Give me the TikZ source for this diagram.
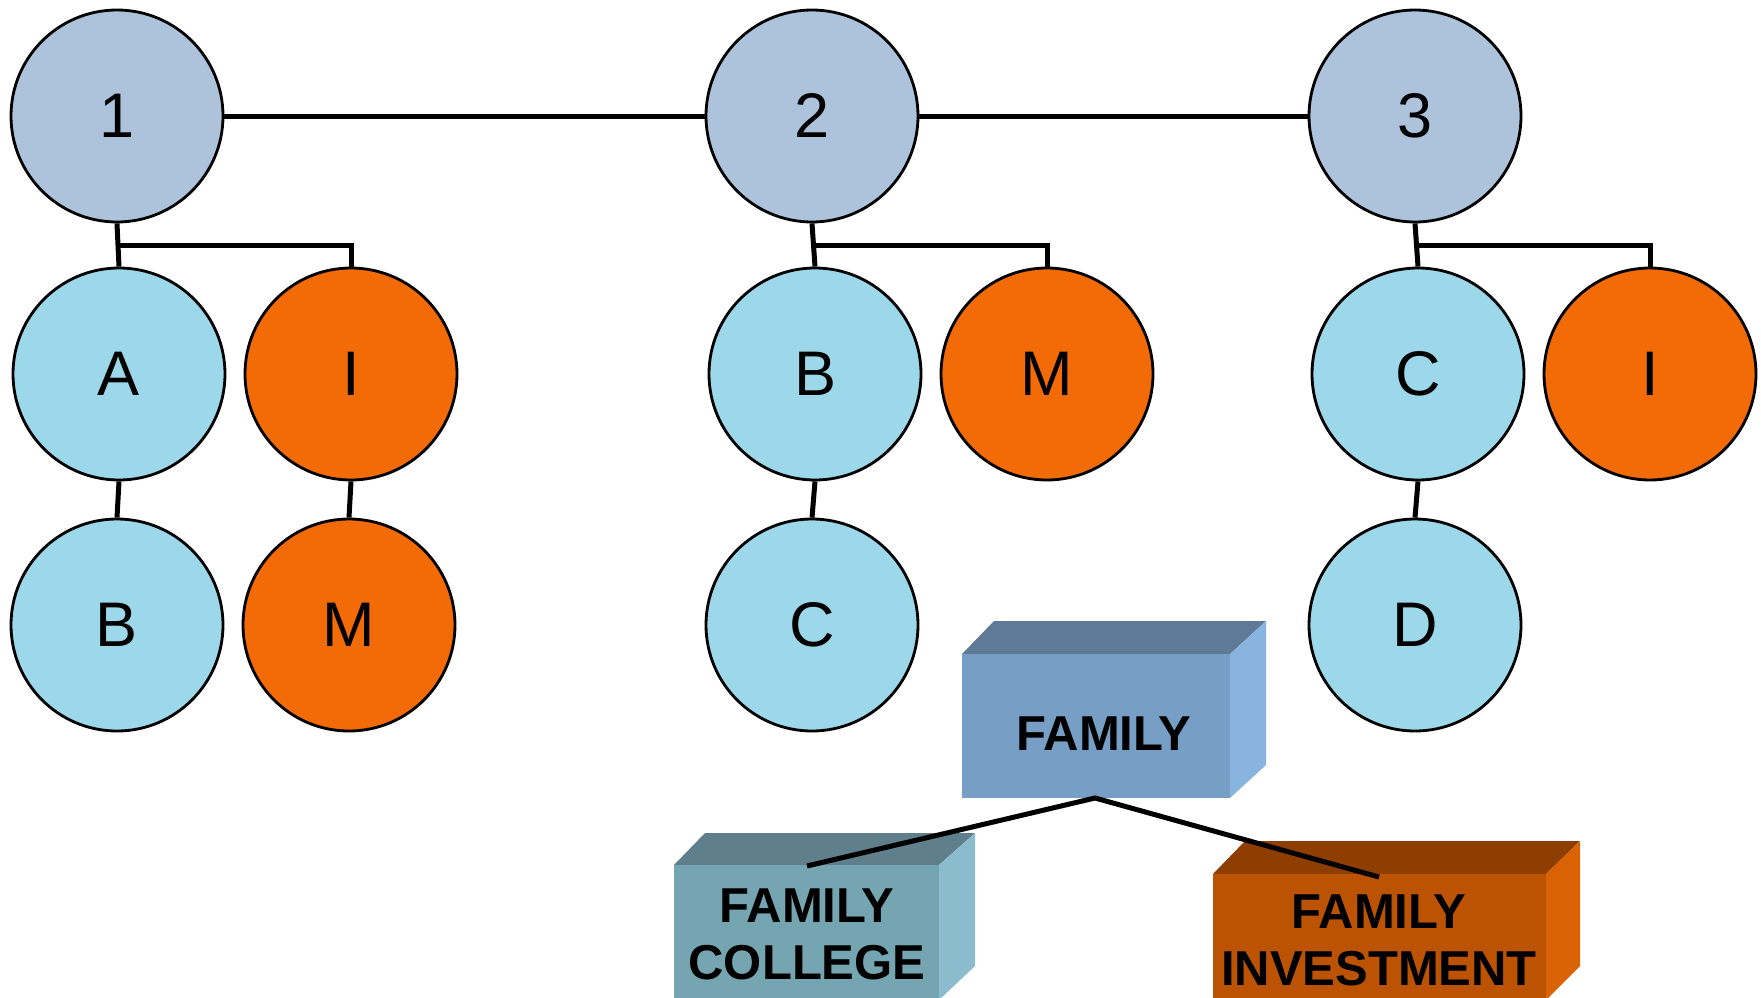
\documentclass[tikz,border=0pt]{standalone}
\usepackage{fontspec}
\setmainfont{Liberation Sans}
\definecolor{toprow}{HTML}{ADC3DC}
\definecolor{lblue}{HTML}{9DD7EA}
\definecolor{orng}{HTML}{F26B06}
\definecolor{famfront}{HTML}{779EC4}
\definecolor{famtop}{HTML}{5E7A97}
\definecolor{famside}{HTML}{8AB4E0}
\definecolor{colfront}{HTML}{76A5B2}
\definecolor{coltop}{HTML}{5E7F8B}
\definecolor{colside}{HTML}{8ABCCD}
\definecolor{invfront}{HTML}{BB5303}
\definecolor{invtop}{HTML}{8E3F00}
\definecolor{invside}{HTML}{D96205}
\begin{document}
\begin{tikzpicture}[x=1pt,y=-1pt]
      \useasboundingbox (0,0) rectangle (1761,998);
      \clip (0,0) rectangle (1761,998);

      \begin{scope}[every node/.style={circle,draw,line width=2.8pt,minimum size=212pt,inner sep=0pt,
                    font=\fontsize{63}{63}\selectfont}]
        \node[fill=toprow] (1)  at (117,116) {1};
        \node[fill=toprow] (2)  at (812,116) {2};
        \node[fill=toprow] (3)  at (1415,116) {3};
        \node[fill=lblue] (A1) at (119,374) {A};
        \node[fill=orng]  (I1) at (351,374) {I};
        \node[fill=lblue] (B1) at (117,625) {B};
        \node[fill=orng]  (M1) at (349,625) {M};
        \node[fill=lblue] (B2) at (815,374) {B};
        \node[fill=orng]  (M2) at (1047,374) {M};
        \node[fill=lblue] (C2) at (812,625) {C};
        \node[fill=lblue] (C3) at (1418,374) {C};
        \node[fill=orng]  (I3) at (1650,374) {I};
        \node[fill=lblue] (D3) at (1415,625) {D};
      \end{scope}

      \begin{scope}[line width=5pt]
        \draw (1) -- (2);
        \draw (2) -- (3);
        \draw (1.south) -- (A1.north);
        \draw (1.south) ++(1,22) -| (I1.north);
        \draw (A1.south) -- (B1.north);
        \draw (I1.south) -- (M1.north);
        \draw (2.south) -- (B2.north);
        \draw (2.south) ++(2,22) -| (M2.north);
        \draw (B2.south) -- (C2.north);
        \draw (3.south) -- (C3.north);
        \draw (3.south) ++(2,22) -| (I3.north);
        \draw (C3.south) -- (D3.north);
      \end{scope}

      % boxes
      \fill[famtop] (962,654) -- (994,621) -- (1266,621) -- (1230,654) -- cycle;
      \fill[famside] (1230,654) -- (1266,621) -- (1266,765) -- (1230,798) -- cycle;
      \fill[famfront] (962,654) rectangle (1230,798);

      \fill[coltop] (674,865) -- (705,833) -- (975,833) -- (939,865) -- cycle;
      \fill[colside] (939,865) -- (975,833) -- (975,966) -- (939,1000) -- cycle;
      \fill[colfront] (674,865) rectangle (939,1000);

      \fill[invtop] (1213,874) -- (1245,841) -- (1580,841) -- (1546,874) -- cycle;
      \fill[invside] (1546,874) -- (1580,841) -- (1580,966) -- (1546,1000) -- cycle;
      \fill[invfront] (1213,874) rectangle (1546,1000);

      \begin{scope}[every node/.style={align=center,inner sep=0pt,
                    font=\fontsize{49}{57}\selectfont\bfseries}]
        \node (fam) at (1104,734) {FAMILY};
        \node (famcol) at (807,934) {FAMILY\\COLLEGE};
        \node (faminv) at (1379,940) {FAMILY\\INVESTMENT};
      \end{scope}

      \coordinate (famtip) at (1095,798);
      \coordinate (coltip) at (807,866);
      \coordinate (invtip) at (1379,877);
      \draw[line width=5pt] (coltip) -- (famtip) -- (invtip);

    \end{tikzpicture}
\end{document}
